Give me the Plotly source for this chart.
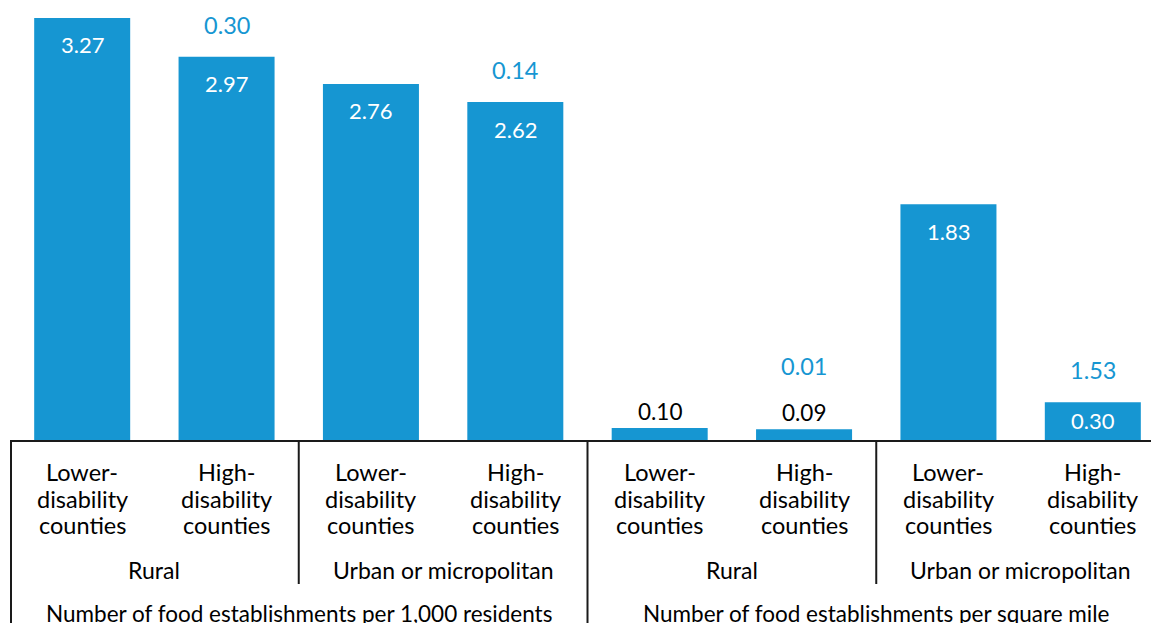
import plotly.graph_objects as go

# ---- data ----
bar_label_lines = [["Lower-", "disability", "counties"], ["High-", "disability", "counties"]] * 4
area_labels = ["Rural", "Urban or micropolitan", "Rural", "Urban or micropolitan"]
measure_labels = ["Number of food establishments per 1,000 residents",
                  "Number of food establishments per square mile"]
values = [3.27, 2.97, 2.76, 2.62, 0.10, 0.09, 1.83, 0.30]
diffs = [None, 0.30, None, 0.14, None, 0.01, None, 1.53]

BLUE = "#1696d2"
FONT = "Lato, 'Open Sans', sans-serif"
W, H = 1151, 623
ML, MB = 10, 182
plot_h = H - MB
Y_MAX = 3.409
X_MIN, X_MAX = -0.5, 7.403
x = list(range(len(values)))

def xpaper(v):
    return (v - X_MIN) / (X_MAX - X_MIN)

px_per_unit = plot_h / Y_MAX

fig = go.Figure(go.Bar(x=x, y=values, marker=dict(color=BLUE, line=dict(width=0)),
                       width=0.665, hoverinfo="skip"))

VAL_SIZE = 22
ann = []
for i, v in enumerate(values):
    hpx = v * px_per_unit
    label = f"{v:.2f}"
    extra = 0
    if hpx > 60:
        ann.append(dict(x=i, y=v, xref="x", yref="y", text=label, showarrow=False,
                        yanchor="middle", yshift=-27, font=dict(color="white", size=VAL_SIZE)))
    elif hpx > 30:
        ann.append(dict(x=i, y=v / 2, xref="x", yref="y", text=label, showarrow=False,
                        yanchor="middle", yshift=1, font=dict(color="white", size=VAL_SIZE)))
    else:
        ann.append(dict(x=i, y=v, xref="x", yref="y", text=label, showarrow=False,
                        yanchor="middle", yshift=17, font=dict(color="black", size=22.5)))
        extra = 31
    if diffs[i] is not None:
        ann.append(dict(x=i, y=v, xref="x", yref="y", text=f"{diffs[i]:.2f}", showarrow=False,
                        yanchor="middle", yshift=32 + extra, font=dict(color=BLUE, size=23.5)))

# category labels below axis
line_shifts = [-31, -57.5, -84]
for i, lines in enumerate(bar_label_lines):
    for t, s in zip(lines, line_shifts):
        ann.append(dict(x=i, y=0, xref="x", yref="paper", text=t, showarrow=False,
                        yanchor="middle", yshift=s, font=dict(color="black", size=23.5)))
for j, t in enumerate(area_labels):
    ann.append(dict(x=2 * j + 0.5, y=0, xref="x", yref="paper", text=t, showarrow=False,
                    yanchor="middle", yshift=-129, font=dict(color="black", size=23)))
for k, t in enumerate(measure_labels):
    ann.append(dict(x=4 * k + 1.5, y=0, xref="x", yref="paper", text=t, showarrow=False,
                    yanchor="middle", yshift=-172, font=dict(color="black", size=22.5)))

shapes = [dict(type="line", xref="paper", yref="paper", x0=0, x1=1, y0=0, y1=0,
               line=dict(color="#1a1a1a", width=2))]
for b, depth in [(-0.5, -190), (1.5, -143), (3.5, -190), (5.5, -143)]:
    xp = xpaper(b) + (1 / (W - ML) if b == -0.5 else 0)
    shapes.append(dict(type="line", xref="paper", yref="paper", ysizemode="pixel", yanchor=0,
                       x0=xp, x1=xp, y0=0, y1=depth, line=dict(color="#1a1a1a", width=2)))

fig.update_layout(
    width=W, height=H,
    margin=dict(l=ML, r=0, t=0, b=MB, pad=0),
    paper_bgcolor="white", plot_bgcolor="white",
    font=dict(family=FONT, size=20, color="black"),
    showlegend=False,
    xaxis=dict(range=[X_MIN, X_MAX], showticklabels=False, showgrid=False, zeroline=False,
               showline=False, ticks=""),
    yaxis=dict(range=[0, Y_MAX], showticklabels=False, showgrid=False, zeroline=False,
               showline=False, ticks=""),
    annotations=ann, shapes=shapes,
)

fig.write_html("out.html")
